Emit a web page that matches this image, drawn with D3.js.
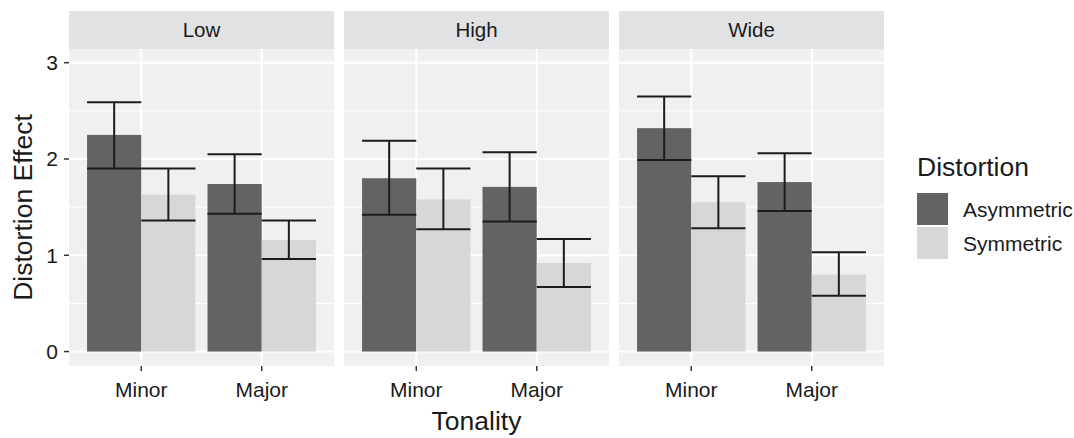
<!DOCTYPE html>
<html>
<head>
<meta charset="utf-8">
<script src="https://cdn.jsdelivr.net/npm/d3@7"></script>
<style>
  html, body { margin: 0; padding: 0; background: #ffffff; }
  svg { display: block; font-family: "Liberation Sans", Arial, Helvetica, sans-serif; }
</style>
</head>
<body>
<svg id="chart" width="1074" height="438"></svg>
<script>
// Facets, categories and groups
const panels = ["Low", "High", "Wide"];
const tonalities = ["Minor", "Major"];
const distortions = ["Asymmetric", "Symmetric"];

// Mean distortion effect, per panel: [Minor Asym, Minor Sym, Major Asym, Major Sym]
const meanLow  = [2.25, 1.63, 1.74, 1.16];
const meanHigh = [1.80, 1.58, 1.71, 0.92];
const meanWide = [2.32, 1.55, 1.76, 0.80];

// Error bar bounds, same order
const lowerLow  = [1.90, 1.36, 1.43, 0.96];
const upperLow  = [2.59, 1.90, 2.05, 1.36];
const lowerHigh = [1.42, 1.27, 1.35, 0.67];
const upperHigh = [2.19, 1.90, 2.07, 1.17];
const lowerWide = [1.99, 1.28, 1.46, 0.58];
const upperWide = [2.65, 1.82, 2.06, 1.03];

const yTicks = [0, 1, 2, 3];
const yMinor = [0.5, 1.5, 2.5];

const means = [meanLow, meanHigh, meanWide];
const lowers = [lowerLow, lowerHigh, lowerWide];
const uppers = [upperLow, upperHigh, upperWide];

const rows = [];
panels.forEach((p, pi) => {
  tonalities.forEach((t, ti) => {
    distortions.forEach((d, di) => {
      const k = ti * 2 + di;
      rows.push({ panel: p, tonality: t, distortion: d,
        mean: means[pi][k], lo: lowers[pi][k], hi: uppers[pi][k] });
    });
  });
});

const svg = d3.select("#chart");
const panelW = 265, gap = 10, left0 = 69;
const stripTop = 11, stripH = 38, plotTop = 49, plotBottom = 366;
const tickSize = 21, titleSize = 26.5;

const y = d3.scaleLinear().domain([-0.15, 3.142]).range([plotBottom, plotTop]);
// discrete x axis with 0.6 expansion on each side: units 0.4 .. 2.6
const x = d3.scaleLinear().domain([0.4, 2.6]).range([0, panelW]);
const xPos = t => x(tonalities.indexOf(t) + 1);
const barW = x(0.9) - x(0);
const fill = d3.scaleOrdinal().domain(distortions).range(["#636365", "#d6d7d9"]);

panels.forEach((p, pi) => {
  const g = svg.append("g").attr("transform", `translate(${left0 + pi * (panelW + gap)},0)`);

  // strip
  g.append("rect").attr("x", 0).attr("y", stripTop).attr("width", panelW).attr("height", stripH)
    .attr("fill", "#e1e2e4");
  g.append("text").attr("x", panelW / 2).attr("y", 37)
    .attr("text-anchor", "middle").attr("font-size", 20.5).attr("fill", "#1a1a1a").text(p);

  // panel background
  g.append("rect").attr("x", 0).attr("y", plotTop).attr("width", panelW).attr("height", plotBottom - plotTop)
    .attr("fill", "#eff0f2");

  // grid
  g.selectAll(".ymin").data(yMinor).join("line")
    .attr("x1", 0).attr("x2", panelW).attr("y1", d => y(d)).attr("y2", d => y(d))
    .attr("stroke", "#ffffff").attr("stroke-width", 1);
  g.selectAll(".ymaj").data(yTicks).join("line")
    .attr("x1", 0).attr("x2", panelW).attr("y1", d => y(d)).attr("y2", d => y(d))
    .attr("stroke", "#ffffff").attr("stroke-width", 2);
  g.selectAll(".xmaj").data(tonalities).join("line")
    .attr("x1", d => xPos(d)).attr("x2", d => xPos(d)).attr("y1", plotTop).attr("y2", plotBottom)
    .attr("stroke", "#ffffff").attr("stroke-width", 2);

  const data = rows.filter(r => r.panel === p);
  const bx = r => xPos(r.tonality) - barW / 2 + distortions.indexOf(r.distortion) * barW / 2;

  // bars
  g.selectAll(".bar").data(data).join("rect")
    .attr("x", bx).attr("width", barW / 2)
    .attr("y", r => y(r.mean)).attr("height", r => y(0) - y(r.mean))
    .attr("fill", r => fill(r.distortion));

  // error bars
  const eb = g.selectAll(".eb").data(data).join("g");
  eb.append("line")
    .attr("x1", r => bx(r) + barW / 4).attr("x2", r => bx(r) + barW / 4)
    .attr("y1", r => y(r.lo)).attr("y2", r => y(r.hi));
  eb.append("line")
    .attr("x1", r => bx(r)).attr("x2", r => bx(r) + barW / 2)
    .attr("y1", r => y(r.hi)).attr("y2", r => y(r.hi));
  eb.append("line")
    .attr("x1", r => bx(r)).attr("x2", r => bx(r) + barW / 2)
    .attr("y1", r => y(r.lo)).attr("y2", r => y(r.lo));
  eb.selectAll("line").attr("stroke", "#1f1a1c").attr("stroke-width", 2);

  // x axis ticks and labels
  g.selectAll(".xt").data(tonalities).join("line")
    .attr("x1", d => xPos(d)).attr("x2", d => xPos(d)).attr("y1", plotBottom).attr("y2", plotBottom + 5)
    .attr("stroke", "#333333").attr("stroke-width", 1.5);
  g.selectAll(".xl").data(tonalities).join("text")
    .attr("x", d => xPos(d)).attr("y", 397)
    .attr("text-anchor", "middle").attr("font-size", tickSize).attr("fill", "#1a1a1a").text(d => d);
});

// y axis
const ya = svg.append("g");
ya.selectAll("line").data(yTicks).join("line")
  .attr("x1", left0 - 5).attr("x2", left0).attr("y1", d => y(d)).attr("y2", d => y(d))
  .attr("stroke", "#333333").attr("stroke-width", 1.5);
ya.selectAll("text").data(yTicks).join("text")
  .attr("x", 58).attr("y", d => y(d) + 7.5)
  .attr("text-anchor", "end").attr("font-size", tickSize).attr("fill", "#1a1a1a").text(d => d);

// axis titles
svg.append("text").attr("transform", `translate(32,${(plotTop + plotBottom) / 2}) rotate(-90)`)
  .attr("text-anchor", "middle").attr("font-size", titleSize).attr("fill", "#1a1a1a").text("Distortion Effect");
svg.append("text").attr("x", left0 + (3 * panelW + 2 * gap) / 2).attr("y", 430)
  .attr("text-anchor", "middle").attr("font-size", titleSize).attr("fill", "#1a1a1a").text("Tonality");

// legend
const lg = svg.append("g").attr("transform", "translate(917,0)");
lg.append("text").attr("x", 0).attr("y", 176).attr("font-size", titleSize).attr("fill", "#1a1a1a").text("Distortion");
lg.selectAll("rect").data(distortions).join("rect")
  .attr("x", 0).attr("y", (d, i) => 193 + i * 34).attr("width", 31).attr("height", 32)
  .attr("fill", d => fill(d));
lg.selectAll(".ll").data(distortions).join("text")
  .attr("x", 46).attr("y", (d, i) => 217 + i * 34)
  .attr("font-size", tickSize).attr("fill", "#1a1a1a").text(d => d);
</script>
</body>
</html>
